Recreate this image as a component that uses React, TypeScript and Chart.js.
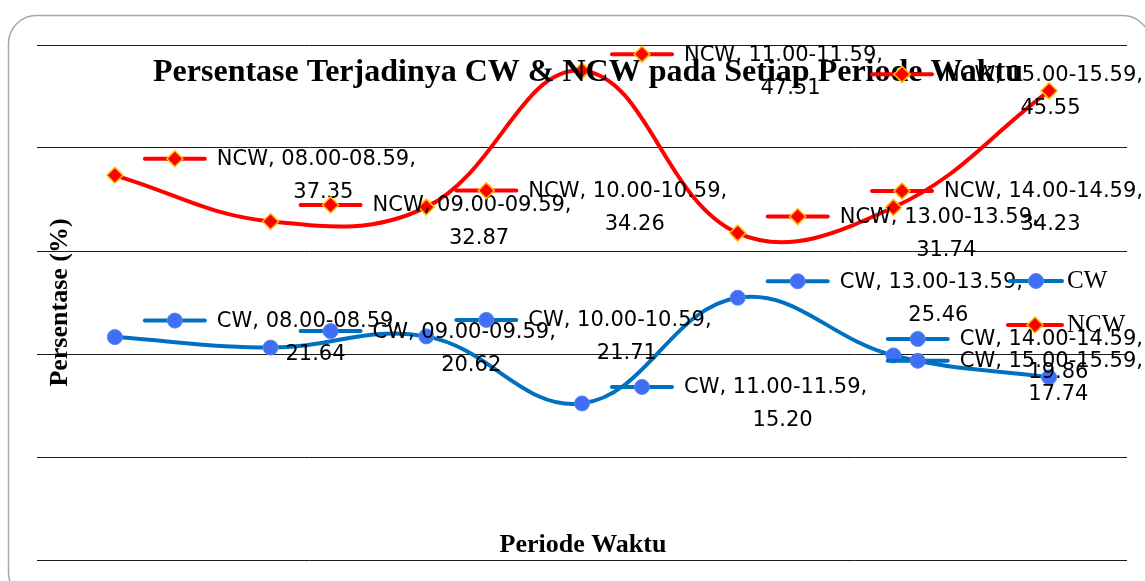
import React, { useEffect, useRef } from 'react';
import { Chart, registerables } from 'chart.js';

Chart.register(...registerables);

const categories = ['08.00-08.59', '09.00-09.59', '10.00-10.59', '11.00-11.59', '13.00-13.59', '14.00-14.59', '15.00-15.59'];
const cwValues = [21.64, 20.62, 21.71, 15.2, 25.46, 19.86, 17.74];
const ncwValues = [37.35, 32.87, 34.26, 47.51, 31.74, 34.23, 45.55];
const seriesNames = ['CW', 'NCW'];
const yMin = 0;
const yMax = 50;
const yStep = 10;
const titleText = 'Persentase Terjadinya CW & NCW pada Setiap Periode Waktu';
const yTitle = 'Persentase (%)';
const xTitle = 'Periode Waktu';

const CW_LINE = '#0070c0';
const CW_FILL = '#3f6ff4';
const NCW_LINE = '#ff0000';
const NCW_BORDER = '#ffc000';

function drawMarker(ctx: CanvasRenderingContext2D, kind: string, x: number, y: number) {
  ctx.save();
  ctx.beginPath();
  if (kind === 'circle') {
    ctx.arc(x, y, 7.5, 0, Math.PI * 2);
    ctx.fillStyle = CW_FILL;
    ctx.fill();
    ctx.lineWidth = 1;
    ctx.strokeStyle = '#5a84f6';
    ctx.stroke();
  } else {
    const h = 8;
    ctx.moveTo(x, y - h);
    ctx.lineTo(x + h, y);
    ctx.lineTo(x, y + h);
    ctx.lineTo(x - h, y);
    ctx.closePath();
    ctx.fillStyle = NCW_LINE;
    ctx.fill();
    ctx.lineWidth = 1.5;
    ctx.strokeStyle = NCW_BORDER;
    ctx.stroke();
  }
  ctx.restore();
}

function drawKey(ctx: CanvasRenderingContext2D, kind: string, color: string, x0: number, x1: number, y: number) {
  ctx.save();
  ctx.beginPath();
  ctx.moveTo(x0, y);
  ctx.lineTo(x1, y);
  ctx.lineWidth = 4;
  ctx.strokeStyle = color;
  ctx.lineCap = 'round';
  ctx.stroke();
  ctx.restore();
  drawMarker(ctx, kind, (x0 + x1) / 2, y);
}

const overlayPlugin = {
  id: 'overlay',
  beforeDraw(chart: any) {
    const ctx = chart.ctx as CanvasRenderingContext2D;
    ctx.save();
    ctx.fillStyle = '#ffffff';
    ctx.fillRect(0, 0, chart.width, chart.height);
    ctx.beginPath();
    (ctx as any).roundRect(8.5, 15.5, 1142, 585, 28);
    ctx.lineWidth = 1.5;
    ctx.strokeStyle = '#a8a8a8';
    ctx.stroke();
    ctx.restore();
  },
  afterDatasetsDraw(chart: any) {
    const ctx = chart.ctx as CanvasRenderingContext2D;
    const area = chart.chartArea;
    ctx.save();
    // title
    ctx.fillStyle = '#000';
    ctx.font = 'bold 32px "Liberation Serif"';
    ctx.textAlign = 'center';
    ctx.textBaseline = 'alphabetic';
    ctx.fillText(titleText, (area.left + area.right) / 2 + 6, 81);

    // axis titles
    ctx.font = 'bold 26px "Liberation Serif"';
    ctx.fillText(xTitle, (area.left + area.right) / 2 + 1, 552);
    ctx.save();
    ctx.translate(67, (area.top + area.bottom) / 2);
    ctx.rotate(-Math.PI / 2);
    ctx.fillText(yTitle, 0, 0);
    ctx.restore();

    // data labels
    const rightLimit = 1143;
    ctx.font = '21px "DejaVu Sans"';
    ctx.textBaseline = 'middle';
    chart.data.datasets.forEach((ds: any, di: number) => {
      const meta = chart.getDatasetMeta(di);
      const kind = di === 0 ? 'circle' : 'diamond';
      const color = di === 0 ? CW_LINE : NCW_LINE;
      meta.data.forEach((pt: any, i: number) => {
        const line1 = `${seriesNames[di]}, ${categories[i]},`;
        const line2 = (ds.data[i] as number).toFixed(2);
        const w1 = ctx.measureText(line1).width;
        const keyW = 60;
        const gap = 12;
        let keyLeft = pt.x + 30;
        const total = keyW + gap + w1;
        if (keyLeft + total > rightLimit) keyLeft = rightLimit - total;
        const keyY = pt.y - 16.5;
        drawKey(ctx, kind, color, keyLeft, keyLeft + keyW, keyY);
        const tx = keyLeft + keyW + gap;
        ctx.fillStyle = '#000';
        ctx.textAlign = 'left';
        ctx.fillText(line1, tx, keyY + 1);
        ctx.textAlign = 'center';
        ctx.fillText(line2, tx + (w1 + 14) / 2, keyY + 34);
      });
    });

    // legend
    ctx.font = '25px "Liberation Serif"';
    ctx.textAlign = 'left';
    ctx.textBaseline = 'middle';
    ctx.fillStyle = '#000';
    drawKey(ctx, 'circle', CW_LINE, 1010, 1062, 281);
    ctx.fillText(seriesNames[0], 1067, 281);
    drawKey(ctx, 'diamond', NCW_LINE, 1008, 1062, 325);
    ctx.fillText(seriesNames[1], 1067, 325);
    ctx.restore();
  },
};

export default function App() {
  const ref = useRef<HTMLCanvasElement | null>(null);
  useEffect(() => {
    if (!ref.current) return;
    const chart = new Chart(ref.current, {
      type: 'line',
      data: {
        labels: categories,
        datasets: [
          {
            label: seriesNames[0],
            data: cwValues,
            borderColor: CW_LINE,
            borderWidth: 4,
            tension: 0.4,
            pointStyle: 'circle',
            pointRadius: 7.5,
            pointBackgroundColor: CW_FILL,
            pointBorderColor: '#5a84f6',
            pointBorderWidth: 1,
            fill: false,
          },
          {
            label: seriesNames[1],
            data: ncwValues,
            borderColor: NCW_LINE,
            borderWidth: 4,
            tension: 0.4,
            pointStyle: 'rectRot',
            pointRadius: 8,
            pointBackgroundColor: NCW_LINE,
            pointBorderColor: NCW_BORDER,
            pointBorderWidth: 1.5,
            fill: false,
          },
        ],
      },
      options: {
        responsive: false,
        animation: false,
        devicePixelRatio: 1,
        layout: { padding: { left: 37, right: 18, top: 45, bottom: 21 } },
        plugins: {
          legend: { display: false },
          title: { display: false },
          tooltip: { enabled: false },
        },
        scales: {
          x: {
            offset: true,
            grid: { display: false },
            border: { display: false },
            ticks: { display: false },
            afterFit: (s: any) => { s.height = 0; },
          },
          y: {
            min: yMin,
            max: yMax,
            ticks: { display: false, stepSize: yStep },
            grid: { color: '#1a1a1a', lineWidth: 1, drawTicks: false },
            border: { display: false },
            afterFit: (s: any) => { s.width = 0; },
          },
        },
      },
      plugins: [overlayPlugin],
    } as any);
    return () => chart.destroy();
  }, []);
  return (
    <div style={{ position: 'fixed', left: 0, top: 0, width: 1145, height: 581 }}>
      <canvas ref={ref} width={1145} height={581} />
    </div>
  );
}
